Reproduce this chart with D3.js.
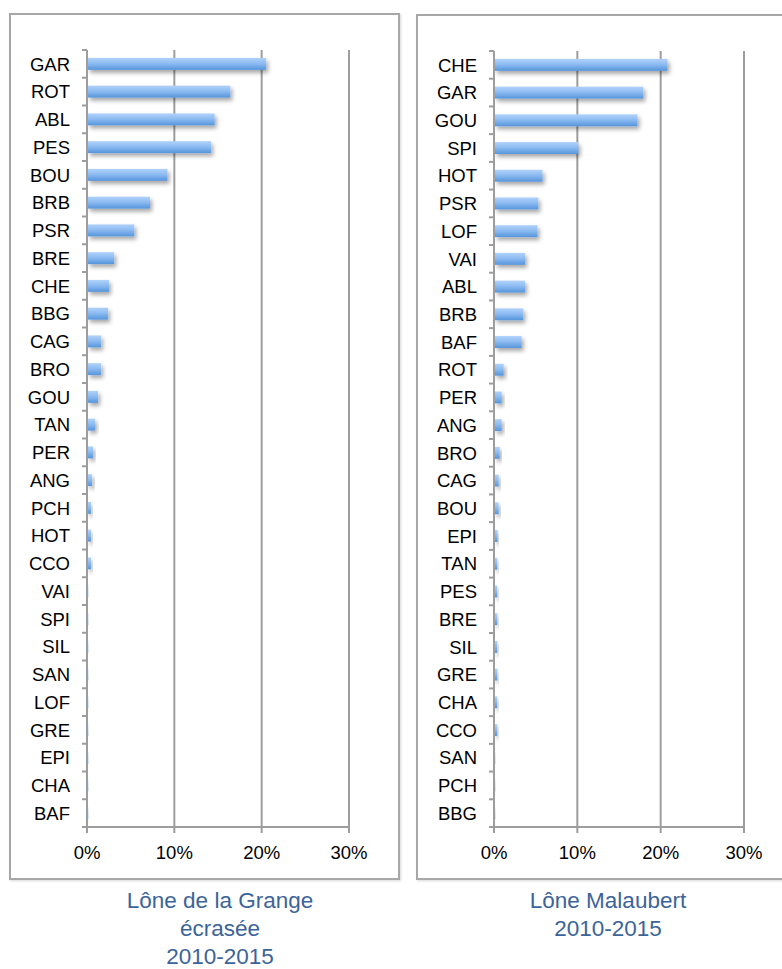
<!DOCTYPE html>
<html>
<head>
<meta charset="utf-8">
<script src="https://cdn.jsdelivr.net/npm/d3@7"></script>
<style>
  html, body { margin: 0; padding: 0; background: #fff; }
  svg { display: block; }
</style>
</head>
<body>
<svg id="chart" width="782" height="969"></svg>
<script>
// Species shares (%) per site, sorted by share
const grangeSpecies = ["GAR","ROT","ABL","PES","BOU","BRB","PSR","BRE","CHE","BBG","CAG","BRO","GOU","TAN","PER","ANG","PCH","HOT","CCO","VAI","SPI","SIL","SAN","LOF","GRE","EPI","CHA","BAF"];
const grangeShare   = [20.4,16.3,14.5,14.1,9.1,7.1,5.3,3.0,2.4,2.3,1.5,1.5,1.15,0.8,0.57,0.46,0.35,0.35,0.35,0.03,0.03,0.03,0.03,0.03,0.03,0.03,0.03,0.03];

const malaubertSpecies = ["CHE","GAR","GOU","SPI","HOT","PSR","LOF","VAI","ABL","BRB","BAF","ROT","PER","ANG","BRO","CAG","BOU","EPI","TAN","PES","BRE","SIL","GRE","CHA","CCO","SAN","PCH","BBG"];
const malaubertShare   = [20.7,17.8,17.1,10.0,5.7,5.2,5.1,3.6,3.6,3.4,3.2,1.04,0.8,0.8,0.56,0.44,0.44,0.32,0.28,0.28,0.28,0.28,0.28,0.28,0.28,0.03,0.03,0.03];

const xTicks = [0, 10, 20, 30];
const grangeTitle = ["Lône de la Grange", "écrasée", "2010-2015"];
const malaubertTitle = ["Lône Malaubert", "2010-2015"];

const svg = d3.select("#chart");
const defs = svg.append("defs");

const grad = defs.append("linearGradient")
  .attr("id", "barFill").attr("x1", 0).attr("y1", 0).attr("x2", 0).attr("y2", 1);
grad.append("stop").attr("offset", "0%").attr("stop-color", "#b0d2fa");
grad.append("stop").attr("offset", "45%").attr("stop-color", "#8ebcf2");
grad.append("stop").attr("offset", "100%").attr("stop-color", "#5595dc");

const shadow = defs.append("filter").attr("id", "barShadow")
  .attr("x", "-50%").attr("y", "-50%").attr("width", "200%").attr("height", "250%");
shadow.append("feDropShadow")
  .attr("dx", 2).attr("dy", 3).attr("stdDeviation", 2.2)
  .attr("flood-color", "#000").attr("flood-opacity", 0.35);

const frameShadow = defs.append("filter").attr("id", "frameShadow")
  .attr("x", "-5%").attr("y", "-5%").attr("width", "110%").attr("height", "110%");
frameShadow.append("feDropShadow")
  .attr("dx", 1).attr("dy", 1).attr("stdDeviation", 0.8)
  .attr("flood-color", "#000").attr("flood-opacity", 0.15);

const FONT = "Liberation Sans, Arial, sans-serif";

function panel(cfg) {
  const g = svg.append("g");

  // outer frame
  g.append("rect")
    .attr("x", cfg.frame[0]).attr("y", cfg.frame[1])
    .attr("width", cfg.frame[2]).attr("height", cfg.frame[3])
    .attr("fill", "#fff").attr("stroke", "#a7a7a7").attr("stroke-width", 2)
    .attr("filter", "url(#frameShadow)");

  const x = d3.scaleLinear().domain([0, 30]).range([cfg.x0, cfg.x1]);
  const y = d3.scaleBand().domain(cfg.cats).range([cfg.top, cfg.bottom])
    .paddingInner(0.57).paddingOuter(0.285);

  // vertical gridlines
  g.append("g").selectAll("line")
    .data(xTicks.filter(t => t > 0)).join("line")
    .attr("x1", d => x(d)).attr("x2", d => x(d))
    .attr("y1", cfg.top).attr("y2", cfg.bottom)
    .attr("stroke", "#9d9d9d").attr("stroke-width", 2);

  // bars
  g.append("g").selectAll("rect")
    .data(cfg.cats.map((c, i) => ({ c, v: cfg.vals[i] }))).join("rect")
    .attr("x", x(0) + 1)
    .attr("y", d => y(d.c))
    .attr("width", d => Math.max(0, x(d.v) - x(0)))
    .attr("height", y.bandwidth())
    .attr("fill", "url(#barFill)")
    .attr("filter", "url(#barShadow)");

  // category axis
  const yAxis = g.append("g").attr("transform", `translate(${x(0)},0)`);
  yAxis.append("line")
    .attr("x1", 0).attr("x2", 0).attr("y1", cfg.top).attr("y2", cfg.bottom)
    .attr("stroke", "#9d9d9d").attr("stroke-width", 2);
  const step = y.step();
  const bounds = d3.range(cfg.cats.length + 1).map(i => cfg.top + i * step);
  yAxis.selectAll("line.tk").data(bounds).join("line").attr("class", "tk")
    .attr("x1", -5).attr("x2", 0).attr("y1", d => d).attr("y2", d => d)
    .attr("stroke", "#9d9d9d").attr("stroke-width", 2);
  yAxis.selectAll("text").data(cfg.cats).join("text")
    .attr("x", -17)
    .attr("y", d => y(d) + y.bandwidth() / 2)
    .attr("dy", "0.36em")
    .attr("text-anchor", "end")
    .attr("font-family", FONT)
    .attr("font-size", 18.5)
    .attr("fill", "#000")
    .text(d => d);

  // value axis
  const xAxis = g.append("g").attr("transform", `translate(0,${cfg.bottom})`);
  xAxis.append("line")
    .attr("x1", x(0)).attr("x2", x(30)).attr("y1", 0).attr("y2", 0)
    .attr("stroke", "#9d9d9d").attr("stroke-width", 2);
  xAxis.selectAll("line.tk").data(xTicks).join("line").attr("class", "tk")
    .attr("x1", d => x(d)).attr("x2", d => x(d)).attr("y1", 0).attr("y2", 6)
    .attr("stroke", "#9d9d9d").attr("stroke-width", 2);
  xAxis.selectAll("text").data(xTicks).join("text")
    .attr("x", d => x(d))
    .attr("y", 32)
    .attr("text-anchor", "middle")
    .attr("font-family", FONT)
    .attr("font-size", 18.5)
    .attr("fill", "#000")
    .text(d => d + "%");

  // caption below frame
  g.append("g").selectAll("text").data(cfg.title).join("text")
    .attr("x", cfg.titleX)
    .attr("y", (d, i) => 907.5 + i * 28)
    .attr("text-anchor", "middle")
    .attr("font-family", FONT)
    .attr("font-size", 22.5)
    .attr("fill", "#3c6499")
    .text(d => d);
}

panel({
  frame: [10, 14, 389, 865],
  x0: 87, x1: 349, top: 50, bottom: 827,
  cats: grangeSpecies, vals: grangeShare,
  title: grangeTitle, titleX: 220
});

panel({
  frame: [417, 15, 400, 864],
  x0: 494, x1: 744, top: 51, bottom: 827,
  cats: malaubertSpecies, vals: malaubertShare,
  title: malaubertTitle, titleX: 608
});
</script>
</body>
</html>
